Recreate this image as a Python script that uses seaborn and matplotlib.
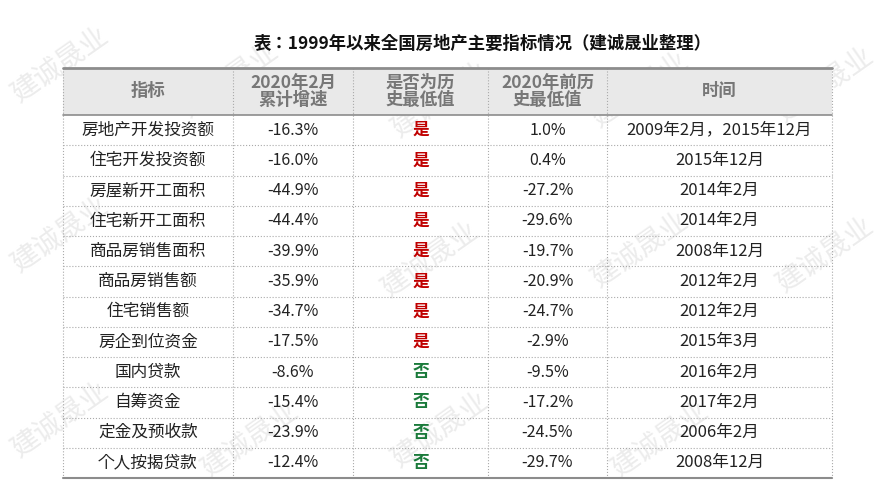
import matplotlib
matplotlib.use("Agg")
import matplotlib.pyplot as plt
from matplotlib import font_manager as fm
import seaborn as sns
import pandas as pd
import glob

sns.set_theme(style="white")

# locate a CJK font file and register it
cjk_files = [f for f in fm.findSystemFonts() if "CJK" in f or "cjk" in f.lower()]
cjk_files += glob.glob("/usr/share/fonts/**/*CJK*", recursive=True)
cjk_name = "Noto Sans CJK SC"
for f in cjk_files:
    try:
        fm.fontManager.addfont(f)
    except Exception:
        pass
names = sorted({e.name for e in fm.fontManager.ttflist if "CJK" in e.name})
if names:
    cjk_name = "Noto Sans CJK SC" if "Noto Sans CJK SC" in names else names[0]
plt.rcParams["font.family"] = "sans-serif"
plt.rcParams["font.sans-serif"] = [cjk_name, "DejaVu Sans"]

title = "表：1999年以来全国房地产主要指标情况（建诚晟业整理）"
headers = ["指标", "2020年2月\n累计增速", "是否为历\n史最低值", "2020年前历\n史最低值", "时间"]
indicators = ["房地产开发投资额", "住宅开发投资额", "房屋新开工面积", "住宅新开工面积",
              "商品房销售面积", "商品房销售额", "住宅销售额", "房企到位资金",
              "国内贷款", "自筹资金", "定金及预收款", "个人按揭贷款"]
growth = [-16.3, -16.0, -44.9, -44.4, -39.9, -35.9, -34.7, -17.5, -8.6, -15.4, -23.9, -12.4]
is_lowest = ["是"] * 8 + ["否"] * 4
prev_low = [1.0, 0.4, -27.2, -29.6, -19.7, -20.9, -24.7, -2.9, -9.5, -17.2, -24.5, -29.7]
times = ["2009年2月，2015年12月", "2015年12月", "2014年2月", "2014年2月", "2008年12月",
         "2012年2月", "2012年2月", "2015年3月", "2016年2月", "2017年2月", "2006年2月", "2008年12月"]

df = pd.DataFrame({"指标": indicators, "增速": growth, "最低": is_lowest,
                   "前低": prev_low, "时间": times})

fig = plt.figure(figsize=(8.89, 5.0), dpi=100)
ax = fig.add_axes([0, 0, 1, 1])
ax.set_xlim(0, 889)
ax.set_ylim(500, 0)
ax.axis("off")

# faint watermarks
for (wx, wy) in [(60, 65), (230, 80), (440, 100), (640, 90), (825, 85), (60, 235),
                 (430, 260), (640, 250), (825, 255), (60, 420), (250, 440), (440, 430), (660, 440)]:
    ax.text(wx, wy, "建诚晟业", fontsize=20, color="#ececec", rotation=35,
            ha="center", va="center", zorder=0)

col_x = [63, 233, 353, 488, 607, 832]
top, head_bot = 68, 115
row_h = (478 - head_bot) / len(df)

ax.text(483, 44, title, fontsize=12.5, fontweight="bold", ha="center", va="center", color="#111111")

ax.add_patch(plt.Rectangle((col_x[0], top), col_x[-1] - col_x[0], head_bot - top,
                           facecolor="#e9e9e9", edgecolor="none", zorder=1))
ax.plot([col_x[0], col_x[-1]], [top, top], color="#8c8c8c", lw=2, zorder=3)
ax.plot([col_x[0], col_x[-1]], [head_bot, head_bot], color="#8c8c8c", lw=1.2, zorder=3)
bottom = head_bot + row_h * len(df)
ax.plot([col_x[0], col_x[-1]], [bottom, bottom], color="#8c8c8c", lw=1.5, zorder=3)
for i in range(1, len(df)):
    y = head_bot + row_h * i
    ax.plot([col_x[0], col_x[-1]], [y, y], color="#aaaaaa", lw=0.8, ls=":", zorder=2)
for x in col_x:
    ax.plot([x, x], [top, bottom], color="#aaaaaa", lw=0.8, ls=":", zorder=2)

centers = [(col_x[i] + col_x[i + 1]) / 2 for i in range(5)]
for c, h in zip(centers, headers):
    ax.text(c, (top + head_bot) / 2, h, fontsize=12.5, fontweight="bold", color="#777777",
            ha="center", va="center", linespacing=0.95, zorder=4)

for i, r in df.iterrows():
    y = head_bot + row_h * (i + 0.5)
    ax.text(centers[0], y, r["指标"], fontsize=12, ha="center", va="center", color="#222222", zorder=4)
    ax.text(centers[1], y, f"{r['增速']:.1f}%", fontsize=11.5, ha="center", va="center", color="#222222", zorder=4)
    col = "#c00000" if r["最低"] == "是" else "#1a7a3a"
    ax.text(centers[2], y, r["最低"], fontsize=12, fontweight="bold", ha="center", va="center", color=col, zorder=4)
    ax.text(centers[3], y, f"{r['前低']:.1f}%", fontsize=11.5, ha="center", va="center", color="#222222", zorder=4)
    ax.text(centers[4], y, r["时间"], fontsize=12, ha="center", va="center", color="#222222", zorder=4)

fig.savefig("out.png", dpi=100)
